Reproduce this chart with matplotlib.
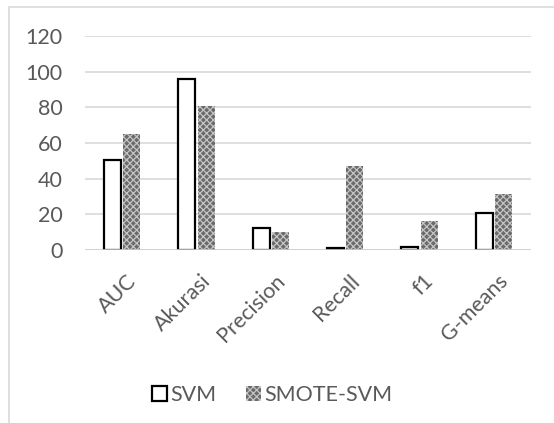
import numpy as np
import matplotlib.pyplot as plt
from matplotlib.patches import Rectangle

plt.rcParams['font.family'] = ['Lato', 'DejaVu Sans']
plt.rcParams['hatch.linewidth'] = 0.9

categories = ['AUC', 'Akurasi', 'Precision', 'Recall', 'f1', 'G-means']
svm = [50.4, 95.8, 12.5, 1.1, 1.5, 20.5]
smote_svm = [64.8, 80.8, 9.9, 47.2, 16.4, 31.2]
yticks = [0, 20, 40, 60, 80, 100, 120]

fig = plt.figure(figsize=(5.54, 4.23), dpi=100)
ax = fig.add_axes([85/554, 173/423, 446/554, 214/423])

# chart area border (runs off the right and bottom edge)
fig.patches.append(Rectangle((9/554, -0.1), 1.0, 1.1 - 7/423, transform=fig.transFigure,
                             fill=False, edgecolor='#d9d9d9', linewidth=1.2))

x = np.arange(len(categories))
w = 0.23
gap = 0.03
ax.bar(x - w/2 - gap/2, svm, w, facecolor='white', edgecolor='black', linewidth=1.6,
       label='SVM', zorder=2)
ax.bar(x + w/2 + gap/2, smote_svm, w, facecolor='#6a6a6a', edgecolor='#c4c4c4',
       hatch='xxxxx', linewidth=0, label='SMOTE-SVM', zorder=2)

ax.set_xlim(-0.5, len(categories) - 0.5)
ax.set_ylim(0, 120)
ax.set_yticks(yticks)
for t in yticks[1:]:
    ax.axhline(t, color='#d9d9d9', linewidth=1.2, zorder=1)
ax.axhline(0, color='#c8c8c8', linewidth=1.2, zorder=3)

for s in ax.spines.values():
    s.set_visible(False)
ax.tick_params(length=0, colors='#595959', labelsize=15.5)
ax.tick_params(axis='y', pad=16)
ax.set_xticks(x + 0.05)
ax.set_xticklabels(categories, rotation=45, ha='right', rotation_mode='anchor')
ax.tick_params(axis='x', pad=15)

leg = fig.legend(loc='center', bbox_to_anchor=(272/554, 1 - 395/423), ncol=2, frameon=False,
                 fontsize=15.5, handlelength=0.7, handleheight=0.7, handletextpad=0.15,
                 columnspacing=1.4, labelcolor='#595959')

fig.savefig('out.png', dpi=100)
